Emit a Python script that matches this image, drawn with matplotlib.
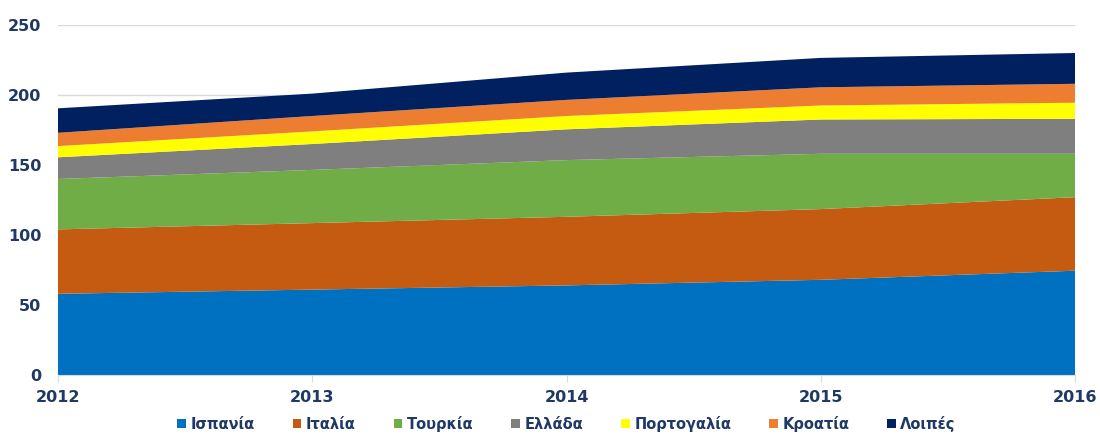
import matplotlib
matplotlib.use("Agg")
import matplotlib.pyplot as plt
import numpy as np

years = [2012, 2013, 2014, 2015, 2016]
series_names = ["Ισπανία", "Ιταλία", "Τουρκία", "Ελλάδα", "Πορτογαλία", "Κροατία", "Λοιπές"]
spain = [58, 61, 64, 68, 74.5]
italy = [46, 47.5, 49, 50.5, 52.5]
turkey = [36, 38, 40.5, 39.5, 31]
greece = [15.5, 18.5, 22, 24.5, 25]
portugal = [8, 9, 9.5, 10, 11.5]
croatia = [9.5, 11, 11.5, 13, 13.5]
others = [17.5, 16, 19.5, 21, 22]
colors = ["#0070C0", "#C55A11", "#70AD47", "#7F7F7F", "#FFFF00", "#ED7D31", "#002060"]

text_color = "#1F3864"
plt.rcParams['font.family'] = ['DejaVu Sans']

fig = plt.figure(figsize=(11, 4.37), dpi=100)
ax = fig.add_axes([58/1100, 1-375/437, (1075-58)/1100, 350/437])

ax.stackplot(years, spain, italy, turkey, greece, portugal, croatia, others,
             colors=colors, labels=series_names, linewidth=0, zorder=2)

ax.set_xlim(2012, 2016)
ax.set_ylim(0, 250)
ax.set_yticks(np.arange(0, 251, 50))
ax.set_xticks(years)
ax.grid(axis='y', color='#D9D9D9', linewidth=1, zorder=0)
ax.set_axisbelow(True)
for s in ['top', 'right', 'left']:
    ax.spines[s].set_visible(False)
ax.spines['bottom'].set_color('#D9D9D9')
ax.tick_params(axis='y', length=0, pad=12, labelsize=11.5, labelcolor=text_color)
ax.tick_params(axis='x', length=5, color='#D9D9D9', pad=6, labelsize=11.5, labelcolor=text_color)
for lbl in ax.get_xticklabels() + ax.get_yticklabels():
    lbl.set_fontweight('bold')

leg = fig.legend(loc='lower center', bbox_to_anchor=(0.515, -0.018), ncol=7, frameon=False,
                 handlelength=0.6, handleheight=0.6, handletextpad=0.3, columnspacing=2.6,
                 prop={'weight': 'bold', 'size': 10.5})
for t in leg.get_texts():
    t.set_color(text_color)

fig.savefig("out.png", dpi=100, facecolor='white')
